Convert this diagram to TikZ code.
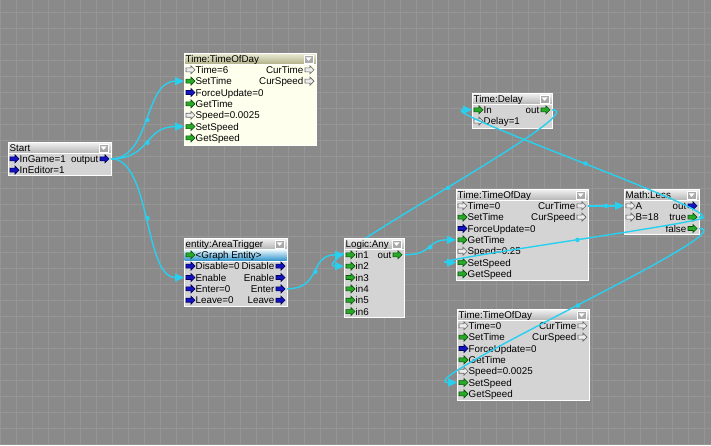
\documentclass[tikz,border=0pt]{standalone}
\usepackage{fontspec}
\setmainfont{Liberation Sans}
\usetikzlibrary{arrows.meta,calc}
\pgfdeclarelayer{front}
\pgfsetlayers{main,front}
\definecolor{bgc}{RGB}{138,138,138}
\definecolor{gridc}{RGB}{149,149,149}
\definecolor{bodygray}{RGB}{212,212,212}
\definecolor{bodycream}{RGB}{255,255,238}
\definecolor{linkc}{RGB}{40,208,240}
\definecolor{trigfill}{RGB}{40,170,40}
\definecolor{trigline}{RGB}{10,80,10}
\definecolor{boolfill}{RGB}{20,20,190}
\definecolor{boolline}{RGB}{0,0,90}
\definecolor{datafill}{RGB}{236,236,236}
\definecolor{dataline}{RGB}{100,100,100}
\definecolor{khakitop}{RGB}{234,234,212}
\definecolor{khakibot}{RGB}{176,176,136}
\definecolor{graytop}{RGB}{240,240,240}
\definecolor{graybot}{RGB}{182,182,182}
\definecolor{enttop}{RGB}{236,248,252}
\definecolor{entbot}{RGB}{50,150,205}
\definecolor{ddfill}{RGB}{170,170,170}

\tikzset{
  fgframe/.style={draw=white, line width=1pt, inner sep=0pt, outer sep=0pt, rectangle},
  fglabel/.style={inner sep=0pt, font=\fontsize{9.8}{11}\selectfont, text=black},
  grayhead/.style={top color=graytop, bottom color=graybot},
  khakihead/.style={top color=khakitop, bottom color=khakibot},
  ptrig/.pic={\filldraw[draw=trigline, fill=trigfill, line width=0.6pt]
      (0,-2)--(5,-2)--(5,-4)--(9,0)--(5,4)--(5,2)--(0,2)--cycle;},
  pbool/.pic={\filldraw[draw=boolline, fill=boolfill, line width=0.6pt]
      (0,-2)--(5,-2)--(5,-4)--(9,0)--(5,4)--(5,2)--(0,2)--cycle;},
  pdata/.pic={\filldraw[draw=dataline, fill=datafill, line width=0.6pt]
      (0,-2)--(5,-2)--(5,-4)--(9,0)--(5,4)--(5,2)--(0,2)--cycle;},
  fglink/.style={draw=linkc, line width=1.4pt, -{Triangle[length=9pt,width=8pt]}},
  fgdot/.style={circle, fill=linkc, inner sep=0pt, minimum size=4.5pt},
}

% name, left, top, width, height, title, body colour, header style
\newcommand{\fgbox}[8]{%
  \node[fgframe, fill=#7, minimum width=#4pt, minimum height=#5pt, anchor=north west] (#1) at (#2,#3) {};
  \shade[#8] ([xshift=0.5pt,yshift=-0.5pt]#1.north west) rectangle ([xshift=-0.5pt,yshift=-11pt]#1.north east);
  \draw[white, line width=1pt] ([yshift=-11pt]#1.north west) -- ([yshift=-11pt]#1.north east);
  \draw[white, line width=1pt] (#1.north west) rectangle (#1.south east);
  \node[fglabel, anchor=base west] (#1-t) at ($(#1.north west)+(1.5,9.5)$) {#6};
  \node[draw=white, line width=0.8pt, fill=ddfill, minimum width=9pt, minimum height=8pt,
        anchor=north east, inner sep=0pt] (#1-dd) at ($(#1.north east)+(-2.5,1.5)$) {};
  \fill[white] ([xshift=-3pt,yshift=1.5pt]#1-dd.center) -- ++(6,0) -- ++(-3,3.5) -- cycle;
}
% port name, box, row, icon, label
\newcommand{\fgin}[5]{%
  \coordinate (#1) at ($(#2.north west)+(0,16.8+11.35*#3)$);
  \pic at ($(#1)+(2,0)$) {#4};
  \node[fglabel, anchor=base west] (#1-l) at ($(#1)+(11.5,3.6)$) {#5};
}
\newcommand{\fgout}[5]{%
  \coordinate (#1) at ($(#2.north east)+(0,16.8+11.35*#3)$);
  \pic at ($(#1)+(-11,0)$) {#4};
  \node[fglabel, anchor=base east] (#1-l) at ($(#1)+(-12.5,3.6)$) {#5};
}

\begin{document}
\begin{tikzpicture}[x=1pt, y=-1pt]
\useasboundingbox (0,0) rectangle (711,445);
\fill[bgc] (0,0) rectangle (711,445);
\foreach \gx in {0,16,...,704} \draw[gridc, line width=1pt] (\gx+0.5,0) -- (\gx+0.5,445);
\foreach \gy in {12,28,...,444} \draw[gridc, line width=1pt] (0,\gy+0.5) -- (711,\gy+0.5);

% Start
\fgbox{start}{8}{142}{103}{33}{Start}{bodygray}{grayhead}
\fgin{start-ingame}{start}{0}{pbool}{InGame=1}
\fgin{start-ineditor}{start}{1}{pbool}{InEditor=1}
\fgout{start-output}{start}{0}{pbool}{output}

% Time:TimeOfDay (top)
\fgbox{toda}{184}{53}{132}{92}{Time:TimeOfDay}{bodycream}{khakihead}
\fgin{toda-time}{toda}{0}{pdata}{Time=6}
\fgin{toda-settime}{toda}{1}{ptrig}{SetTime}
\fgin{toda-force}{toda}{2}{pbool}{ForceUpdate=0}
\fgin{toda-gettime}{toda}{3}{ptrig}{GetTime}
\fgin{toda-speed}{toda}{4}{pdata}{Speed=0.0025}
\fgin{toda-setspeed}{toda}{5}{ptrig}{SetSpeed}
\fgin{toda-getspeed}{toda}{6}{ptrig}{GetSpeed}
\fgout{toda-curtime}{toda}{0}{pdata}{CurTime}
\fgout{toda-curspeed}{toda}{1}{pdata}{CurSpeed}

% entity:AreaTrigger
\fgbox{area}{184}{238}{103}{68}{entity:AreaTrigger}{bodygray}{grayhead}
\shade[top color=enttop, bottom color=entbot] ($(area.north west)+(0.5,11.5)$) rectangle ($(area.north east)+(-0.5,22.5)$);
\draw[white, line width=1pt] ($(area.north west)+(0,23)$) -- ($(area.north east)+(0,23)$);
\fgin{area-entity}{area}{0}{ptrig}{<Graph Entity>}
\fgin{area-disable}{area}{1}{pbool}{Disable=0}
\fgin{area-enable}{area}{2}{pbool}{Enable}
\fgin{area-enter}{area}{3}{pbool}{Enter=0}
\fgin{area-leave}{area}{4}{pbool}{Leave=0}
\fgout{area-odisable}{area}{1}{pbool}{Disable}
\fgout{area-oenable}{area}{2}{pbool}{Enable}
\fgout{area-oenter}{area}{3}{pbool}{Enter}
\fgout{area-oleave}{area}{4}{pbool}{Leave}

% Time:Delay
\fgbox{delay}{472}{93}{80}{35}{Time:Delay}{bodygray}{grayhead}
\fgin{delay-in}{delay}{0}{ptrig}{In}
\fgin{delay-delay}{delay}{1}{pdata}{Delay=1}
\fgout{delay-out}{delay}{0}{ptrig}{out}

% Time:TimeOfDay (middle)
\fgbox{todb}{456}{189}{132}{91}{Time:TimeOfDay}{bodygray}{grayhead}
\fgin{todb-time}{todb}{0}{pdata}{Time=0}
\fgin{todb-settime}{todb}{1}{ptrig}{SetTime}
\fgin{todb-force}{todb}{2}{pbool}{ForceUpdate=0}
\fgin{todb-gettime}{todb}{3}{ptrig}{GetTime}
\fgin{todb-speed}{todb}{4}{pdata}{Speed=0.25}
\fgin{todb-setspeed}{todb}{5}{ptrig}{SetSpeed}
\fgin{todb-getspeed}{todb}{6}{ptrig}{GetSpeed}
\fgout{todb-curtime}{todb}{0}{pdata}{CurTime}
\fgout{todb-curspeed}{todb}{1}{pdata}{CurSpeed}

% Math:Less
\fgbox{less}{624}{189}{75}{45}{Math:Less}{bodygray}{grayhead}
\fgin{less-a}{less}{0}{pdata}{A}
\fgin{less-b}{less}{1}{pdata}{B=18}
\fgout{less-out}{less}{0}{pbool}{out}
\fgout{less-true}{less}{1}{ptrig}{true}
\fgout{less-false}{less}{2}{ptrig}{false}

% Time:TimeOfDay (bottom)
\fgbox{todc}{457}{309}{132}{91}{Time:TimeOfDay}{bodygray}{grayhead}
\fgin{todc-time}{todc}{0}{pdata}{Time=0}
\fgin{todc-settime}{todc}{1}{ptrig}{SetTime}
\fgin{todc-force}{todc}{2}{pbool}{ForceUpdate=0}
\fgin{todc-gettime}{todc}{3}{ptrig}{GetTime}
\fgin{todc-speed}{todc}{4}{pdata}{Speed=0.0025}
\fgin{todc-setspeed}{todc}{5}{ptrig}{SetSpeed}
\fgin{todc-getspeed}{todc}{6}{ptrig}{GetSpeed}
\fgout{todc-curtime}{todc}{0}{pdata}{CurTime}
\fgout{todc-curspeed}{todc}{1}{pdata}{CurSpeed}

% Logic:Any (drawn above the links)
\begin{pgfonlayer}{front}
\fgbox{any}{344}{238}{60}{79}{Logic:Any}{bodygray}{grayhead}
\fgin{any-in1}{any}{0}{ptrig}{in1}
\fgin{any-in2}{any}{1}{ptrig}{in2}
\fgin{any-in3}{any}{2}{ptrig}{in3}
\fgin{any-in4}{any}{3}{ptrig}{in4}
\fgin{any-in5}{any}{4}{ptrig}{in5}
\fgin{any-in6}{any}{5}{ptrig}{in6}
\fgout{any-out}{any}{0}{ptrig}{out}
\end{pgfonlayer}

% links
\draw[fglink] (start-output) .. controls +(40,0) and +(-40,0) .. node[fgdot]{} (toda-settime);
\draw[fglink] (start-output) .. controls +(40,0) and +(-40,0) .. node[fgdot]{} (toda-setspeed);
\draw[fglink] (start-output) .. controls +(40,0) and +(-40,0) .. node[fgdot]{} (area-enable);
\draw[fglink] (area-oenter) .. controls +(35,0) and +(-35,0) .. node[fgdot]{} (any-in1);
\draw[fglink] (delay-out) .. controls +(45,0) and +(-45,0) .. node[fgdot]{} (any-in2);
\draw[fglink] (any-out) .. controls +(30,0) and +(-30,0) .. node[fgdot]{} (todb-gettime);
\draw[fglink] (todb-curtime) .. controls +(15,0) and +(-15,0) .. node[fgdot]{} (less-a);
\draw[fglink] (less-true) .. controls +(45,0) and +(-45,0) .. node[fgdot]{} (todb-setspeed);
\draw[fglink] (less-true) .. controls +(40,0) and +(-40,0) .. node[fgdot]{} (delay-in);
\draw[fglink] (less-false) .. controls +(50,0) and +(-50,0) .. node[fgdot]{} (todc-setspeed);
\end{tikzpicture}
\end{document}
